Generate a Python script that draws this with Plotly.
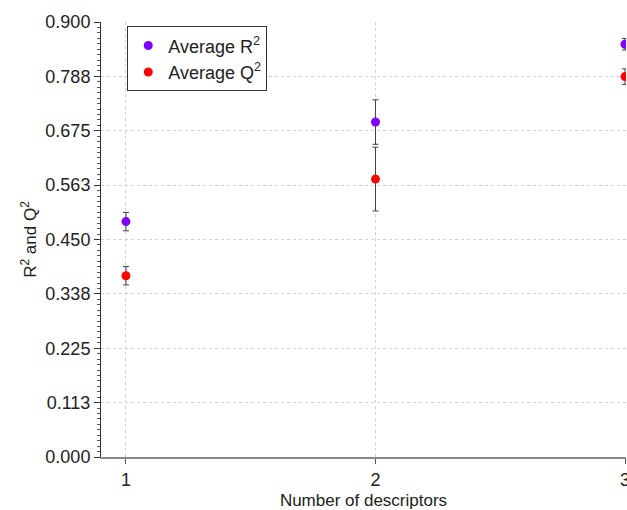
import plotly.graph_objects as go

descriptors = [1, 2, 3]
r2_avg = [0.487, 0.693, 0.854]
r2_err = [0.019, 0.046, 0.012]
q2_avg = [0.375, 0.575, 0.787]
q2_err = [0.019, 0.066, 0.016]
y_tickvals = [0, 0.1125, 0.225, 0.3375, 0.45, 0.5625, 0.675, 0.7875, 0.9]
y_ticktext = ["0.000", "0.113", "0.225", "0.338", "0.450", "0.563", "0.675", "0.788", "0.900"]

font = "Liberation Sans, Arial, sans-serif"

fig = go.Figure()
fig.add_trace(go.Scatter(
    x=descriptors, y=r2_avg, mode="markers", name="Average R<sup>2</sup>",
    marker=dict(color="#7f00ff", size=9),
    error_y=dict(type="data", array=r2_err, color="#404040", thickness=1, width=3),
))
fig.add_trace(go.Scatter(
    x=descriptors, y=q2_avg, mode="markers", name="Average Q<sup>2</sup>",
    marker=dict(color="#ff0000", size=9),
    error_y=dict(type="data", array=q2_err, color="#404040", thickness=1, width=3),
))

fig.update_layout(
    width=627, height=510,
    margin=dict(l=101, r=1, t=22, b=53, autoexpand=False),
    paper_bgcolor="white", plot_bgcolor="white",
    font=dict(family=font, size=16, color="#222"),
    showlegend=True,
    legend=dict(x=0.05, y=0.99, xanchor="left", yanchor="top",
                bordercolor="#333", borderwidth=1, bgcolor="white",
                font=dict(size=18), itemwidth=30, tracegroupgap=0),
    xaxis=dict(
        range=[0.9, 3.004], tickvals=[1, 2, 3], ticktext=["1", "2", "3"],
        showgrid=True, gridcolor="#d0d0d0", griddash="3px,3px", gridwidth=1,
        ticks="outside", ticklen=5, tickcolor="#555",
        showline=True, linecolor="#888", linewidth=2,
        zeroline=False, ticklabeloverflow="allow", automargin=False,
        title=dict(text="Number of descriptors", font=dict(size=17), standoff=6),
        tickfont=dict(size=18),
    ),
    yaxis=dict(
        range=[0, 0.9], tickvals=y_tickvals, ticktext=y_ticktext,
        showgrid=True, gridcolor="#d0d0d0", griddash="3px,3px", gridwidth=1,
        ticks="outside", ticklen=6, tickcolor="#333",
        minor=dict(dtick=0.01125, ticks="outside", ticklen=3, tickcolor="#555", showgrid=False),
        showline=True, linecolor="#333", linewidth=1,
        zeroline=False, automargin=False,
        title=dict(text="R<sup>2</sup> and Q<sup>2</sup>", font=dict(size=17), standoff=4),
        tickfont=dict(size=18),
    ),
)

fig.write_html("out.html")
